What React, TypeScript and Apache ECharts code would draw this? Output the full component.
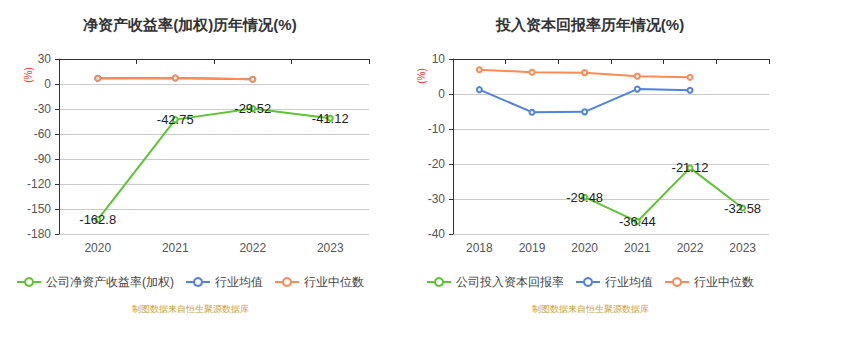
import React, { useEffect, useRef } from "react";
import * as echarts from "echarts";

const roeYears = ["2020", "2021", "2022", "2023"];
const roeCompany = [-162.8, -42.75, -29.52, -41.12];
const roeMean = [6.8, 7.2, 5.6, null];
const roeMedian = [6.8, 7.2, 5.6, null];

const roicYears = ["2018", "2019", "2020", "2021", "2022", "2023"];
const roicCompany = [null, null, -29.48, -36.44, -21.12, -32.58];
const roicMean = [1.24, -5.2, -5.1, 1.4, 1.05, null];
const roicMedian = [6.95, 6.2, 6.1, 5.1, 4.76, null];

const GREEN = "#5ec532";
const BLUE = "#4f82e6";
const ORANGE = "#ff8a55";

export default function App() {
  const ref = useRef<HTMLDivElement>(null);
  useEffect(() => {
    if (!ref.current) return;
    const chart = echarts.init(ref.current, undefined, { renderer: "svg" });
    const axisLabel = { color: "#555", fontSize: 12 };
    const yAxisCommon = (min: number, max: number, interval: number, gridIndex: number) => ({
      type: "value",
      gridIndex,
      min,
      max,
      interval,
      axisLine: { show: true, lineStyle: { color: "#333" } },
      axisTick: { show: true, length: 4, lineStyle: { color: "#333" } },
      axisLabel,
      splitLine: { lineStyle: { color: "#ccc" } },
    });
    const lineSeries = (name: string, data: any[], color: string, xi: number, yi: number, label = false) => ({
      type: "line",
      name,
      data,
      xAxisIndex: xi,
      yAxisIndex: yi,
      symbol: "emptyCircle",
      symbolSize: 5,
      lineStyle: { color, width: 2 },
      itemStyle: { color },
      label: label
        ? { show: true, position: "inside", color: "#222", fontSize: 13, formatter: (p: any) => String(p.value) }
        : { show: false },
    });
    const legendCommon = {
      top: 271, itemWidth: 24, itemHeight: 10, itemGap: 11,
      textStyle: { color: "#444", fontSize: 12 },
    };
    chart.setOption({
      animation: false,
      title: [
        { text: "净资产收益率(加权)历年情况(%)", left: 185, top: 12, textAlign: "center", textStyle: { fontSize: 15, fontWeight: "bold", color: "#333" } },
        { text: "投入资本回报率历年情况(%)", left: 585, top: 12, textAlign: "center", textStyle: { fontSize: 15, fontWeight: "bold", color: "#333" } },
        { text: "制图数据来自恒生聚源数据库", left: 185, top: 299, textAlign: "center", textStyle: { fontSize: 9, fontWeight: "normal", color: "#c9a040" } },
        { text: "制图数据来自恒生聚源数据库", left: 585, top: 299, textAlign: "center", textStyle: { fontSize: 9, fontWeight: "normal", color: "#c9a040" } },
      ],
      graphic: [
        { type: "text", x: 28, y: 75, rotation: Math.PI / 2, style: { text: "(%)", fill: "#ff3333", fontSize: 10, align: "center", verticalAlign: "middle" } },
        { type: "text", x: 421, y: 76, rotation: Math.PI / 2, style: { text: "(%)", fill: "#ff3333", fontSize: 10, align: "center", verticalAlign: "middle" } },
      ],
      legend: [
        { ...legendCommon, left: 11, data: ["公司净资产收益率(加权)", "行业均值", "行业中位数"] },
        { ...legendCommon, left: 421, data: ["公司投入资本回报率", "行业均值", "行业中位数"] },
      ],
      grid: [
        { left: 59, top: 59, width: 310, height: 175 },
        { left: 453, top: 59, width: 316, height: 175 },
      ],
      xAxis: [
        { type: "category", gridIndex: 0, data: roeYears, position: "bottom", axisLine: { show: false }, axisTick: { show: false }, axisLabel: { ...axisLabel, margin: 8 } },
        { type: "category", gridIndex: 0, data: roeYears, position: "top", axisLine: { show: true, onZero: true, lineStyle: { color: "#333" } }, axisTick: { show: true, inside: true, length: 5, lineStyle: { color: "#333" } }, axisLabel: { show: false } },
        { type: "category", gridIndex: 1, data: roicYears, position: "bottom", axisLine: { show: false }, axisTick: { show: false }, axisLabel: { ...axisLabel, margin: 8 } },
        { type: "category", gridIndex: 1, data: roicYears, position: "top", axisLine: { show: true, onZero: true, lineStyle: { color: "#333" } }, axisTick: { show: true, inside: true, length: 5, lineStyle: { color: "#333" } }, axisLabel: { show: false } },
      ],
      yAxis: [
        yAxisCommon(-180, 30, 30, 0),
        yAxisCommon(-40, 10, 10, 1),
      ],
      series: [
        lineSeries("公司净资产收益率(加权)", roeCompany, GREEN, 0, 0, true),
        lineSeries("行业均值", roeMean, BLUE, 0, 0),
        lineSeries("行业中位数", roeMedian, ORANGE, 0, 0),
        lineSeries("公司投入资本回报率", roicCompany, GREEN, 2, 1, true),
        lineSeries("行业均值", roicMean, BLUE, 2, 1),
        lineSeries("行业中位数", roicMedian, ORANGE, 2, 1),
      ],
    });
    return () => chart.dispose();
  }, []);
  return <div ref={ref} style={{ position: "absolute", left: 0, top: 0, width: 841, height: 343 }} />;
}
